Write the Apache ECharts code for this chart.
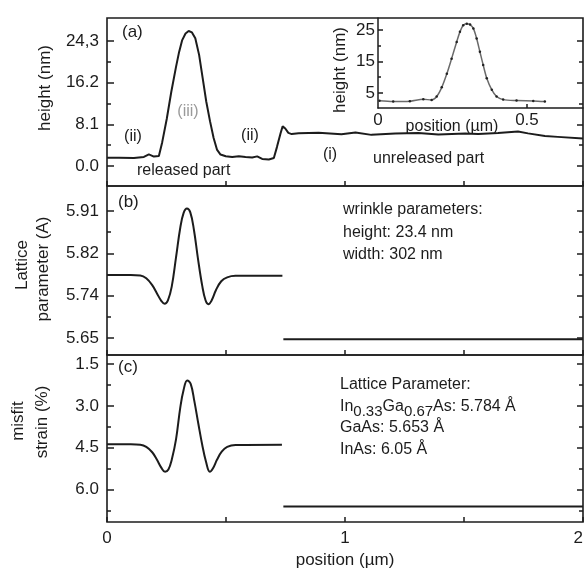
<!DOCTYPE html>
<html><head><meta charset="utf-8">
<script src="https://cdn.jsdelivr.net/npm/echarts@6/dist/echarts.min.js"></script>
<style>html,body{margin:0;padding:0;background:#fff}#c{width:585px;height:570px}</style>
</head><body><div id="c"></div>
<script>
// ---------- data ----------
const profileX = [0, 0.05, 0.113, 0.155, 0.176, 0.197, 0.218, 0.232, 0.251, 0.270, 0.290, 0.303, 0.316, 0.330, 0.343, 0.357, 0.371, 0.387, 0.402, 0.417, 0.433, 0.448, 0.462, 0.477, 0.499, 0.526, 0.554, 0.582, 0.610, 0.631, 0.652, 0.680, 0.701, 0.714, 0.729, 0.738, 0.749, 0.762, 0.776, 0.805, 0.889, 0.985, 1.044, 1.111, 1.211, 1.308, 1.392, 1.505, 1.560, 1.643, 1.727, 1.769, 1.840, 1.894, 2.0];
const profileH = [1.6, 1.59, 1.55, 1.76, 2.25, 1.83, 1.94, 4.63, 9.14, 14.39, 19.26, 22.18, 24.47, 25.76, 26.24, 25.97, 24.82, 21.6, 17.07, 12.54, 8.67, 5.44, 3.19, 2.22, 1.9, 1.73, 1.89, 1.77, 1.67, 1.87, 1.38, 1.26, 1.54, 3.67, 6.3, 7.72, 7.29, 6.43, 6.2, 6.36, 6.47, 6.16, 6.53, 6.05, 6.32, 6.4, 6.12, 6.34, 6.24, 6.43, 6.69, 6.34, 5.81, 5.66, 5.33];

const latticeX = [0, 0.10, 0.14, 0.165, 0.19, 0.21, 0.228, 0.242, 0.256, 0.272, 0.29, 0.308, 0.322, 0.336, 0.35, 0.365, 0.382, 0.40, 0.414, 0.426, 0.44, 0.458, 0.48, 0.505, 0.54, 0.737];
const latticeA = [5.779, 5.779, 5.778, 5.772, 5.758, 5.741, 5.726, 5.720, 5.727, 5.755, 5.815, 5.876, 5.906, 5.915, 5.907, 5.872, 5.813, 5.757, 5.727, 5.719, 5.727, 5.748, 5.766, 5.774, 5.777, 5.777];
const gaasLineX = [0.741, 2.0];
const gaasLineA = [5.647, 5.647];

const strainX = [0, 0.10, 0.14, 0.165, 0.19, 0.21, 0.228, 0.244, 0.258, 0.272, 0.29, 0.308, 0.322, 0.337, 0.352, 0.367, 0.384, 0.40, 0.416, 0.432, 0.446, 0.462, 0.482, 0.505, 0.54, 0.735];
const strainS = [4.37, 4.37, 4.39, 4.47, 4.66, 4.93, 5.21, 5.36, 5.28, 4.93, 4.20, 3.05, 2.42, 2.09, 2.22, 2.83, 3.65, 4.39, 5.0, 5.36, 5.22, 4.93, 4.64, 4.47, 4.40, 4.39];
const strainRightX = [0.741, 2.0];
const strainRightS = [6.6, 6.6];

const insetX = [0.005, 0.051, 0.107, 0.152, 0.18, 0.197, 0.214, 0.231, 0.247, 0.264, 0.275, 0.286, 0.298, 0.309, 0.32, 0.331, 0.342, 0.353, 0.365, 0.382, 0.398, 0.42, 0.465, 0.521, 0.56];
const insetH = [2.56, 2.3, 2.4, 3.0, 2.8, 3.9, 6.8, 11.1, 15.9, 21.2, 24.4, 26.5, 27.0, 26.7, 25.5, 22.3, 18.1, 13.9, 9.7, 6.0, 3.9, 2.9, 2.6, 2.5, 2.3];

// ---------- ticks ----------
const heightTicks = [0, 8.1, 16.2, 24.3];
const heightTickLabels = ['0.0', '8.1', '16.2', '24,3'];
const heightMinorTicks = [4.05, 12.15, 20.25];
const latticeTicks = [5.65, 5.7367, 5.8233, 5.91];
const latticeTickLabels = ['5.65', '5.74', '5.82', '5.91'];
const latticeMinorTicks = [5.6933, 5.78, 5.8667];
const strainTicks = [1.5, 3.0, 4.5, 6.0];
const strainTickLabels = ['1.5', '3.0', '4.5', '6.0'];
const strainMinorTicks = [2.25, 3.75, 5.25, 6.75];
const positionTicks = [0, 1, 2];
const positionTickLabels = ['0', '1', '2'];
const insetHeightTicks = [5, 15, 25];
const insetHeightMinorTicks = [10, 20];
const insetPositionTicks = [0, 0.5];
const insetPositionTickLabels = ['0', '0.5'];

// ---------- chart ----------
const FONT = "'Liberation Sans', Arial, Helvetica, sans-serif";
const INK = '#1c1c1c';
const pairs = (xs, ys) => xs.map((x, i) => [x, ys[i]]);
const labelFor = (ticks, labels) => v => {
  const i = ticks.findIndex(t => Math.abs(t - v) < 1e-6);
  return i >= 0 ? labels[i] : '';
};
const tickStyle = { color: INK, width: 1.5 };

function panelYAxes(grid, min, max, majors, labels, minors, inverse) {
  const base = { type: 'value', gridIndex: grid, min, max, inverse: !!inverse,
    axisLine: { show: false, onZero: false }, splitLine: { show: false } };
  return [
    Object.assign({}, base, { position: 'left',
      axisTick: { show: true, inside: true, length: 7, customValues: majors, lineStyle: tickStyle },
      axisLabel: { show: true, customValues: majors, formatter: labelFor(majors, labels), margin: 8,
        fontSize: 17, fontFamily: FONT, color: INK } }),
    Object.assign({}, base, { position: 'left',
      axisTick: { show: true, inside: true, length: 4, customValues: minors, lineStyle: tickStyle },
      axisLabel: { show: false } }),
    Object.assign({}, base, { position: 'right',
      axisTick: { show: true, inside: true, length: 6, customValues: majors, lineStyle: tickStyle },
      axisLabel: { show: false } }),
    Object.assign({}, base, { position: 'right',
      axisTick: { show: true, inside: true, length: 4, customValues: minors, lineStyle: tickStyle },
      axisLabel: { show: false } })
  ];
}
function panelXAxis(grid, showLabels) {
  return { type: 'value', gridIndex: grid, position: 'bottom', min: 0, max: 2, interval: 0.5,
    axisLine: { show: false, onZero: false }, splitLine: { show: false },
    axisTick: { show: true, inside: true, length: 5, lineStyle: tickStyle },
    axisLabel: showLabels ? { show: true, customValues: positionTicks,
      formatter: labelFor(positionTicks, positionTickLabels), margin: 8, alignMaxLabel: 'right',
      fontSize: 17, fontFamily: FONT, color: INK } : { show: false } };
}

const gridStyle = { show: true, borderColor: INK, borderWidth: 1.6, backgroundColor: 'transparent',
  containLabel: false, outerBoundsMode: 'none' };
const grids = [
  Object.assign({ left: 107, top: 18, width: 476, height: 168 }, gridStyle),
  Object.assign({ left: 107, top: 186, width: 476, height: 169 }, gridStyle),
  Object.assign({ left: 107, top: 355, width: 476, height: 167 }, gridStyle),
  { left: 378, top: 18, width: 205, height: 90, show: false, containLabel: false, outerBoundsMode: 'none' }
];

const yAxes = [].concat(
  panelYAxes(0, -3.89, 28.77, heightTicks, heightTickLabels, heightMinorTicks, false),
  panelYAxes(1, 5.615, 5.961, latticeTicks, latticeTickLabels, latticeMinorTicks, false),
  panelYAxes(2, 1.178, 7.157, strainTicks, strainTickLabels, strainMinorTicks, true),
  [
    { type: 'value', gridIndex: 3, position: 'left', min: 0.24, max: 28.8,
      axisLine: { show: true, onZero: false, lineStyle: { color: INK, width: 1.5 } }, splitLine: { show: false },
      axisTick: { show: true, inside: true, length: 5, customValues: insetHeightTicks, lineStyle: tickStyle },
      axisLabel: { show: true, customValues: insetHeightTicks, margin: 3, fontSize: 17, fontFamily: FONT, color: INK } },
    { type: 'value', gridIndex: 3, position: 'left', min: 0.24, max: 28.8,
      axisLine: { show: false, onZero: false }, splitLine: { show: false },
      axisTick: { show: true, inside: true, length: 3, customValues: insetHeightMinorTicks, lineStyle: tickStyle },
      axisLabel: { show: false } }
  ]
);

const xAxes = [
  panelXAxis(0, false), panelXAxis(1, false), panelXAxis(2, true),
  { type: 'value', gridIndex: 3, position: 'bottom', min: 0, max: 0.688,
    axisLine: { show: true, onZero: false, lineStyle: { color: INK, width: 1.5 } }, splitLine: { show: false },
    axisTick: { show: true, inside: true, length: 4, customValues: [0.5], lineStyle: tickStyle },
    axisLabel: { show: true, customValues: insetPositionTicks,
      formatter: labelFor(insetPositionTicks, insetPositionTickLabels), margin: 4,
      fontSize: 17, fontFamily: FONT, color: INK } }
];

const lineBase = { type: 'line', symbol: 'none', showSymbol: false, silent: true,
  lineStyle: { color: INK, width: 2 }, animation: false };
const series = [
  Object.assign({}, lineBase, { xAxisIndex: 0, yAxisIndex: 0, data: pairs(profileX, profileH) }),
  Object.assign({}, lineBase, { xAxisIndex: 1, yAxisIndex: 4, smooth: 0.4, data: pairs(latticeX, latticeA) }),
  Object.assign({}, lineBase, { xAxisIndex: 1, yAxisIndex: 4, data: pairs(gaasLineX, gaasLineA) }),
  Object.assign({}, lineBase, { xAxisIndex: 2, yAxisIndex: 8, smooth: 0.4, data: pairs(strainX, strainS) }),
  Object.assign({}, lineBase, { xAxisIndex: 2, yAxisIndex: 8, data: pairs(strainRightX, strainRightS) }),
  { type: 'line', xAxisIndex: 3, yAxisIndex: 12, data: pairs(insetX, insetH), smooth: 0.3,
    symbol: 'circle', symbolSize: 2.5, showSymbol: true, silent: true, animation: false,
    itemStyle: { color: '#222' }, lineStyle: { color: '#6a6a6a', width: 1.5 } }
];

function txt(x, y, text, o) {
  o = o || {};
  return { type: 'text', x, y, rotation: o.rot || 0, silent: true, z: 100,
    style: { text, fontSize: o.size || 16, fontFamily: FONT, fill: o.color || INK,
      align: o.align || 'left', verticalAlign: 'middle', lineHeight: o.lh, rich: o.rich } };
}
const V = Math.PI / 2;
const graphics = [
  txt(45, 88, 'height (nm)', { rot: V, align: 'center', size: 17 }),
  txt(22, 265, 'Lattice', { rot: V, align: 'center', size: 17 }),
  txt(43, 269, 'parameter (A)', { rot: V, align: 'center', size: 17 }),
  txt(18, 421, 'misfit', { rot: V, align: 'center', size: 17 }),
  txt(42, 422, 'strain (%)', { rot: V, align: 'center', size: 17 }),
  txt(345, 560, 'position (\u00b5m)', { align: 'center', size: 17 }),
  txt(340, 70, 'height (nm)', { rot: V, align: 'center', size: 17 }),
  txt(452, 127, 'position (\u00b5m)', { align: 'center', size: 16 }),
  txt(122, 32, '(a)', { size: 17 }),
  txt(188, 112, '(iii)', { align: 'center', color: '#9a9a9a' }),
  txt(133, 137, '(ii)', { align: 'center' }),
  txt(250, 136, '(ii)', { align: 'center' }),
  txt(137, 171, 'released part'),
  txt(330, 155, '(i)', { align: 'center' }),
  txt(373, 159, 'unreleased part'),
  txt(118, 202, '(b)', { size: 17 }),
  txt(343, 210, 'wrinkle parameters:'),
  txt(343, 233, 'height: 23.4 nm'),
  txt(343, 255, 'width: 302 nm'),
  txt(118, 367, '(c)', { size: 17 }),
  txt(340, 385, 'Lattice Parameter:'),
  txt(340, 407, 'In{s|0.33}Ga{s|0.67}As: 5.784 \u00c5', { lh: 24,
    rich: { s: { fontSize: 15, fontFamily: FONT, fill: INK, lineHeight: 15, verticalAlign: 'bottom' } } }),
  txt(340, 428, 'GaAs: 5.653 \u00c5'),
  txt(340, 450, 'InAs: 6.05 \u00c5')
];

const chart = echarts.init(document.getElementById('c'), null, { renderer: 'canvas' });
chart.setOption({
  animation: false,
  backgroundColor: '#ffffff',
  grid: grids,
  xAxis: xAxes,
  yAxis: yAxes,
  series: series,
  graphic: graphics
});
</script>
</body></html>
